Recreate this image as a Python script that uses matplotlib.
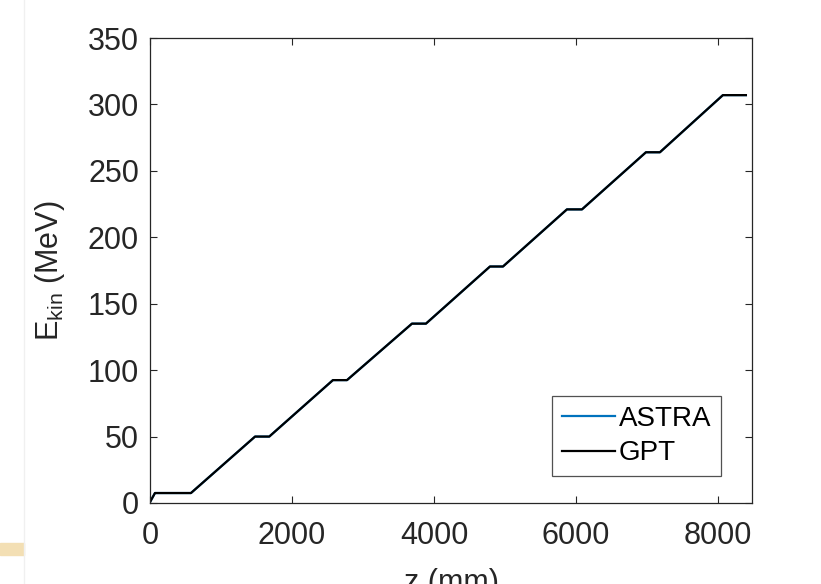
import matplotlib
matplotlib.use("Agg")
import matplotlib.pyplot as plt
from matplotlib.patches import Rectangle
from matplotlib.lines import Line2D

plt.rcParams['font.family'] = ['Liberation Sans', 'DejaVu Sans']
plt.rcParams['mathtext.fontset'] = 'custom'
plt.rcParams['mathtext.rm'] = 'Liberation Sans'
plt.rcParams['mathtext.it'] = 'Liberation Sans:italic'

# kinetic energy along the beamline (breakpoints)
z_astra = [0, 70, 577, 1480, 1680, 2577, 2775, 3690, 3887, 4789, 4972,
           5873, 6085, 6986, 7183, 8070, 8394]
e_astra = [0.7, 7.5, 7.5, 50, 50, 92.5, 92.5, 135, 135, 178, 178,
           221, 221, 264, 264, 307, 307]
z_gpt = z_astra
e_gpt = e_astra

xticks = [0, 2000, 4000, 6000, 8000]
yticks = [0, 50, 100, 150, 200, 250, 300, 350]

W, H = 821, 584
fig = plt.figure(figsize=(W / 100, H / 100), dpi=100)
ax = fig.add_axes([150 / W, 1 - 503 / H, (752 - 150) / W, (503 - 38) / H])

ax.plot(z_astra, e_astra, color='#0072BD', lw=1.6, label='ASTRA')
ax.plot(z_gpt, e_gpt, color='black', lw=1.6, label='GPT')

ax.set_xlim(0, 8480)
ax.set_ylim(0, 350)
ax.set_xticks(xticks)
ax.set_yticks(yticks)
ax.tick_params(direction='in', length=5, width=0.8, top=True, right=True,
               labelsize=22, colors='#262626')
ax.tick_params(axis='x', pad=13)
ax.tick_params(axis='y', pad=8)
for s in ax.spines.values():
    s.set_color('#262626')
    s.set_linewidth(0.9)

ax.set_xlabel('z (mm)', fontsize=22, color='#262626')
ax.set_ylabel(r'E$_{\mathrm{kin}}$ (MeV)', fontsize=22, color='#262626')
ax.yaxis.set_label_coords(-0.138, 0.5)
ax.xaxis.set_label_coords(0.5, -0.14)

leg = ax.legend(loc='lower right', bbox_to_anchor=((721 - 150) / 602, (503 - 476) / 465),
                fontsize=20, frameon=True, fancybox=False, handlelength=1.9,
                handletextpad=0.15, borderpad=0.35, labelspacing=0.3,
                borderaxespad=0)
leg.get_frame().set_edgecolor('#262626')
leg.get_frame().set_linewidth(0.9)

# screenshot artefacts at the left edge
fig.add_artist(Line2D([24 / W, 24 / W], [0, 1], color='#f0f0f0', lw=1))
fig.patches.append(Rectangle((0, 1 - 555 / H), 24 / W, 12 / H,
                             transform=fig.transFigure, color='#f3dfb4'))

fig.savefig('out.png', dpi=100)
